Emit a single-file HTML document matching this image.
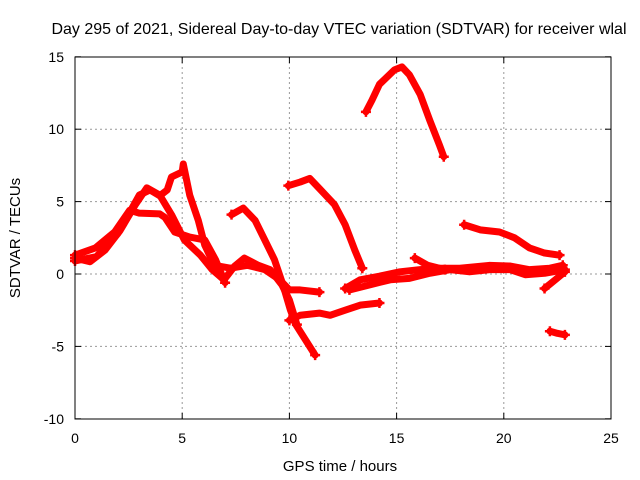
<!DOCTYPE html>
<html><head><meta charset="utf-8"><style>
body{margin:0;background:#fff}
svg{display:block;font-family:"Liberation Sans",sans-serif}
</style></head><body>
<svg id="chart" width="640" height="480">
<text x="339" y="34" font-size="16" text-anchor="middle" fill="#000">Day 295 of 2021, Sidereal Day-to-day VTEC variation (SDTVAR) for receiver wlal</text>
<text x="340" y="471" font-size="15" text-anchor="middle">GPS time / hours</text>
<text transform="translate(20,238) rotate(-90)" font-size="15" text-anchor="middle">SDTVAR / TECUs</text>
<g id="grid"></g><g id="marks"></g>
<rect x="75" y="57" width="536" height="362" fill="none" stroke="#000" stroke-width="1"/>
</svg>
<script>
const xTicks=[0,5,10,15,20,25];
const yTicks=[15,10,5,0,-5,-10];
const trackA=[[13.57,11.2],[13.85,12.0],[14.2,13.1],[14.9,14.1],[15.25,14.3],[15.6,13.75],[16.1,12.4],[16.55,10.6],[17.0,8.9],[17.2,8.1]];
const trackB=[[9.95,6.1],[10.5,6.35],[10.95,6.6],[11.4,5.9],[12.1,4.8],[12.6,3.4],[13.05,1.65],[13.4,0.4]];
const trackC=[[7.3,4.1],[7.85,4.55],[8.4,3.7],[8.85,2.35],[9.3,1.0],[9.7,-0.75],[10.05,-2.5],[10.3,-3.5],[10.75,-4.55],[11.2,-5.6]];
const trackD1=[[0,1.1],[0.7,0.85],[1.4,1.65],[2.1,3.0],[2.8,4.75],[3.35,5.95],[3.95,5.45],[4.5,4.1],[5.1,2.35],[5.85,1.3],[6.4,0.3],[6.95,-0.4],[7.45,0.55],[7.9,1.1],[8.55,0.6],[9.1,0.3],[9.65,-0.75],[10.0,-1.8],[10.35,-3.5]];
const trackD2=[[0,1.3],[0.95,1.8],[1.85,2.9],[2.55,4.4],[3.0,4.2],[3.95,4.15],[4.2,3.9],[4.65,2.9],[5.35,2.55],[6.05,2.35],[6.55,1.0],[7.0,-0.6]];
const trackD3=[[0,0.9],[1.0,1.2],[2.0,2.8],[3.0,5.45],[3.5,5.8],[3.95,5.4],[4.3,5.8],[4.5,6.7],[5.0,7.05],[5.05,7.6],[5.35,5.45],[5.75,3.7],[6.05,2.0],[6.5,0.6],[7.25,0.4],[8.05,0.6],[8.85,0.3],[9.55,-0.4],[10.0,-1.1],[10.5,-1.1],[11.4,-1.25]];
const trackE=[[10.0,-3.2],[10.5,-2.85],[11.4,-2.7],[11.9,-2.85],[12.6,-2.5],[13.3,-2.15],[14.2,-2.0]];
const trackF=[[12.6,-1.0],[13.3,-0.4],[14.2,-0.15],[15.15,0.15],[16.1,0.3],[17.0,0.4],[17.95,0.4],[19.35,0.6],[20.3,0.55],[21.2,0.3],[22.15,0.4],[22.75,0.6]];
const trackF2=[[12.8,-1.1],[13.75,-0.75],[14.7,-0.4],[15.6,-0.3],[16.55,0.05],[17.5,0.3],[18.4,0.15],[19.35,0.3],[20.3,0.3],[21.0,-0.05],[21.9,0.05],[22.85,0.3]];
const trackF3=[[15.85,1.1],[16.45,0.6],[17.25,0.3]];
const trackG=[[18.15,3.4],[18.9,3.05],[19.8,2.9],[20.5,2.5],[21.2,1.8],[21.9,1.45],[22.6,1.3]];
const trackH=[[22.15,-3.95],[22.5,-4.1],[22.85,-4.2]];
const trackI=[[21.9,-1.0],[22.4,-0.4],[22.85,0.15]];
const tracks=[trackA,trackB,trackC,trackD1,trackD2,trackD3,trackE,trackF,trackF2,trackF3,trackG,trackH,trackI];
const X=h=>75+h*(536/25);
const Y=v=>274-v*(362/25);
const NS="http://www.w3.org/2000/svg";
const grid=document.getElementById('grid'),marks=document.getElementById('marks');
function mk(tag,attrs,parent){const e=document.createElementNS(NS,tag);for(const k in attrs)e.setAttribute(k,attrs[k]);parent.appendChild(e);return e;}
xTicks.forEach(t=>{
 if(t>0&&t<25){const l=mk('line',{x1:X(t),x2:X(t),y1:57,y2:419,stroke:'#999','stroke-dasharray':'2,3'},grid);
 
 }
 mk('line',{x1:X(t),x2:X(t),y1:419,y2:413,stroke:'#000'},grid);
 mk('line',{x1:X(t),x2:X(t),y1:57,y2:63,stroke:'#000'},grid);
 const tx=mk('text',{x:X(t),y:443,'font-size':14,'text-anchor':'middle'},grid);tx.textContent=t;
 
 
});
yTicks.forEach(t=>{
 if(t>-10&&t<15){const l=mk('line',{x1:75,x2:611,y1:Y(t),y2:Y(t),stroke:'#999','stroke-dasharray':'2,3'},grid);
 
 }
 mk('line',{x1:75,x2:81,y1:Y(t),y2:Y(t),stroke:'#000'},grid);
 mk('line',{x1:611,x2:605,y1:Y(t),y2:Y(t),stroke:'#000'},grid);
 const tx=mk('text',{x:64,y:Y(t)+5,'font-size':14,'text-anchor':'end'},grid);tx.textContent=t;
 
 
});
tracks.forEach(tr=>{
 const pl=mk('polyline',{points:tr.map(p=>X(p[0])+','+Y(p[1])).join(' '),fill:'none',stroke:'#f00','stroke-width':7,'stroke-linejoin':'round','stroke-linecap':'round'},marks);
 
 
 [tr[0],tr[tr.length-1]].forEach(p=>{
  const m=mk('path',{d:`M${X(p[0])-5},${Y(p[1])}h10M${X(p[0])},${Y(p[1])-5}v10`,stroke:'#f00','stroke-width':2.5},marks);
  
  
 });
});
</script>
</body></html>
